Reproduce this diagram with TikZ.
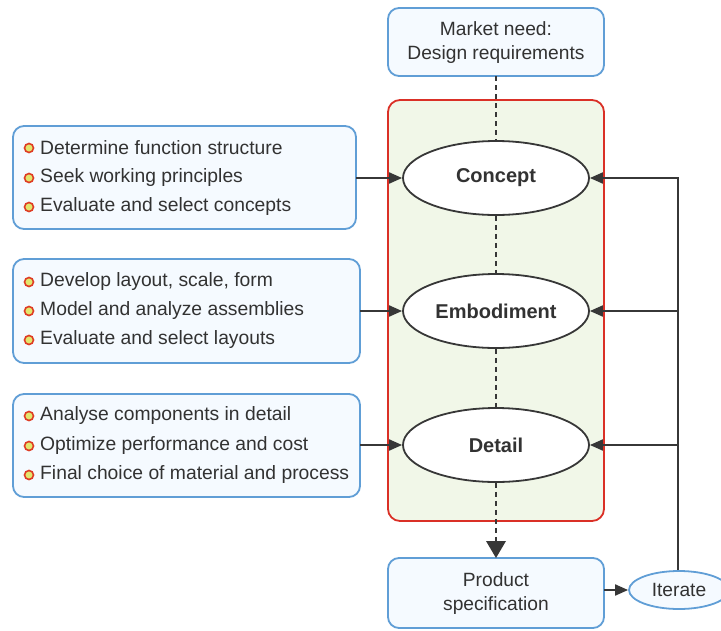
\documentclass[tikz,border=0pt]{standalone}
\usepackage{fontspec}
\setmainfont{Liberation Sans}
\usetikzlibrary{shapes.geometric,arrows.meta}
\definecolor{boxblue}{RGB}{96,158,214}
\definecolor{boxfill}{RGB}{245,250,255}
\definecolor{stagered}{RGB}{218,48,38}
\definecolor{stagefill}{RGB}{241,247,232}
\definecolor{linegray}{RGB}{55,55,55}
\definecolor{txt}{RGB}{50,50,50}
\definecolor{dotred}{RGB}{222,60,36}
\definecolor{dotfill}{RGB}{226,230,110}
\tikzset{
  infobox/.style={draw=boxblue, fill=boxfill, line width=1.8pt, rounded corners=11pt},
  stage/.style={ellipse, draw=linegray, fill=white, line width=1.8pt,
    minimum width=186pt, minimum height=74pt, inner sep=0pt,
    font=\fontsize{20}{22}\selectfont\bfseries, text=txt},
  boxtext/.style={align=center, font=\fontsize{19.2}{24}\selectfont, text=txt},
  itemtext/.style={anchor=west, inner sep=0pt, font=\fontsize{19.3}{22}\selectfont, text=txt},
  bullet/.style={circle, draw=dotred, fill=dotfill, line width=1.6pt, minimum size=9pt, inner sep=0pt},
  feed/.style={draw=linegray, line width=1.9pt, -{Triangle[length=13pt,width=11pt]}},
  flowdash/.style={draw=linegray, line width=2.2pt, dash pattern=on 5pt off 4pt},
}
\begin{document}
\begin{tikzpicture}[x=1pt,y=-1pt]
\useasboundingbox (0,0) rectangle (721,630);

% stage container
\draw[draw=stagered, fill=stagefill, line width=1.8pt, rounded corners=12pt] (388,100) rectangle (604,521);

% top and bottom boxes
\draw[infobox] (388,8) rectangle (604,76);
\node[boxtext] (need) at (496,43) {Market need:\\Design requirements};
\coordinate (needb) at (496,76);
\draw[infobox] (388,558) rectangle (604,628);
\node[boxtext] (spec) at (496,594) {Product\\specification};
\coordinate (spect) at (496,558);
\coordinate (specr) at (604,590);

% design stages
\node[stage] (concept) at (496,178) {Concept};
\node[stage] (embod) at (496,311) {Embodiment};
\node[stage] (detail) at (496,445) {Detail};

% iterate ellipse
\node[ellipse, draw=boxblue, fill=boxfill, line width=1.8pt, minimum width=100pt, minimum height=38pt,
  inner sep=0pt, font=\fontsize{19.2}{22}\selectfont, text=txt] (iter) at (679,590) {Iterate};

% dashed flow through the stages
\draw[flowdash] (needb) -- (concept.north);
\draw[flowdash] (concept.south) -- (embod.north);
\draw[flowdash] (embod.south) -- (detail.north);
\draw[flowdash] (detail.south) -- (496,542);
\draw[draw=none, fill=linegray] (486,541) -- (506,541) -- (496,558) -- cycle;

% left task boxes
\draw[infobox] (13,126) rectangle (356,229);
\coordinate (b1) at (356,178);
\node[bullet] at (29,148) {}; \node[itemtext] at (40,148) {Determine function structure};
\node[bullet] at (29,178) {}; \node[itemtext] at (40,178) {Seek working principles};
\node[bullet] at (29,207) {}; \node[itemtext] at (40,207) {Evaluate and select concepts};

\draw[infobox] (13,259) rectangle (360,363);
\coordinate (b2) at (360,311);
\node[bullet] at (29,282) {}; \node[itemtext] at (40,282) {Develop layout, scale, form};
\node[bullet] at (29,311) {}; \node[itemtext] at (40,311) {Model and analyze assemblies};
\node[bullet] at (29,340) {}; \node[itemtext] at (40,340) {Evaluate and select layouts};

\draw[infobox] (13,394) rectangle (360,497);
\coordinate (b3) at (360,445);
\node[bullet] at (29,416) {}; \node[itemtext] at (40,416) {Analyse components in detail};
\node[bullet] at (29,446) {}; \node[itemtext] at (40,446) {Optimize performance and cost};
\node[bullet] at (29,475) {}; \node[itemtext] at (40,475) {Final choice of material and process};

\draw[feed] (b1) -- (concept.west);
\draw[feed] (b2) -- (embod.west);
\draw[feed] (b3) -- (detail.west);

% iteration loop
\draw[feed] (specr) -- (iter.west);
\coordinate (loop1) at (678,178);
\coordinate (loop2) at (678,311);
\coordinate (loop3) at (678,445);
\draw[feed] (iter.north -| loop1) -- (loop1) -- (concept.east);
\draw[feed] (loop2) -- (embod.east);
\draw[feed] (loop3) -- (detail.east);
\end{tikzpicture}
\end{document}
